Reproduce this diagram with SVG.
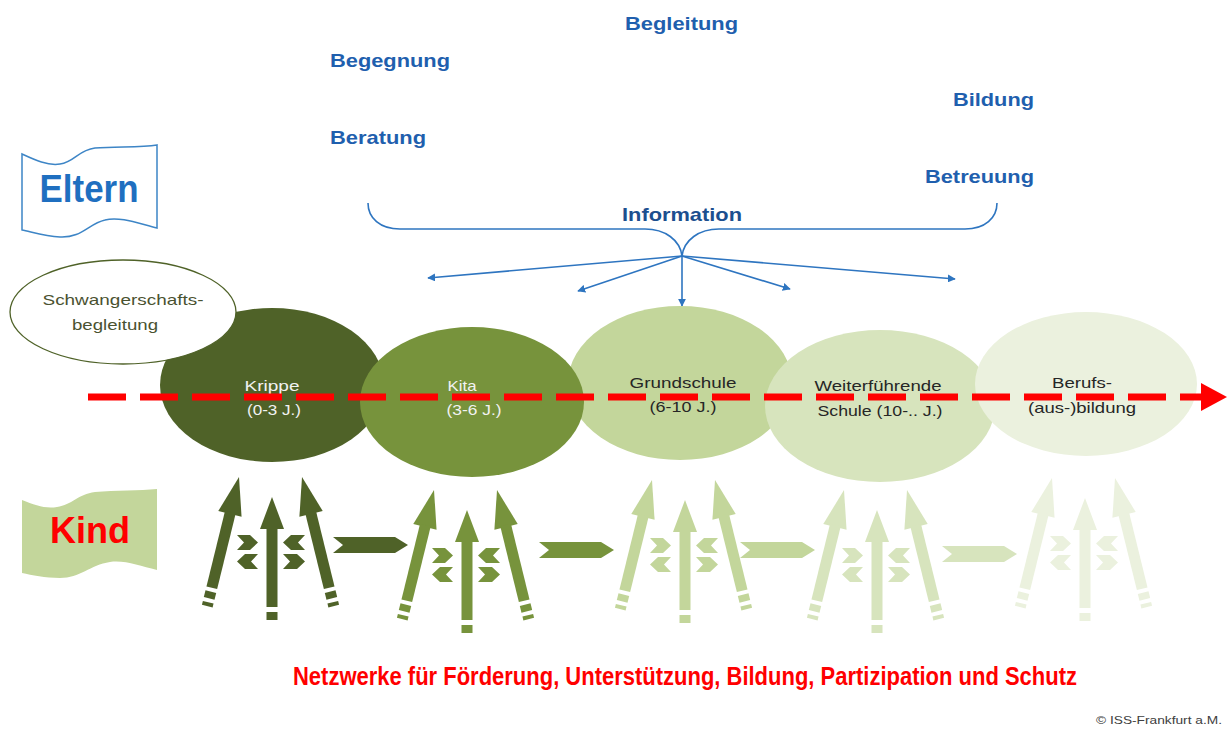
<svg xmlns="http://www.w3.org/2000/svg" xmlns:xlink="http://www.w3.org/1999/xlink" width="1229" height="730" viewBox="0 0 1229 730">
<style>
.top{font-family:"Liberation Sans",Arial,sans-serif;font-weight:bold;font-size:19px;fill:#1f5fae;}
.lbl{font-family:"Liberation Sans",Arial,sans-serif;font-size:15px;text-anchor:middle;}
.wl{fill:#f2f2f2;}
.dk{fill:#262626;}
.blue{stroke:#2e75c0;stroke-width:1.6;fill:none;}
</style>
<defs>
<marker id="ah" viewBox="0 0 10 10" refX="9" refY="5" markerWidth="8" markerHeight="8" markerUnits="userSpaceOnUse" orient="auto">
<path d="M0,0 L10,5 L0,10 z" fill="#2e75c0"/>
</marker>
<g id="sidearrow">
<polygon points="0,0 12,38 -12,38"/>
<rect x="-5.5" y="36" width="11" height="78"/>
<rect x="-5.5" y="118" width="11" height="7"/>
<rect x="-5.5" y="129" width="11" height="4"/>
</g>
<g id="cluster">
<use xlink:href="#sidearrow" transform="translate(-33,0) rotate(13.8)"/>
<use xlink:href="#sidearrow" transform="translate(30,0) rotate(-13.8)"/>
<g transform="translate(0,20)">
<polygon points="0,0 12,32 -12,32"/>
<rect x="-5.5" y="30" width="11" height="80"/>
<rect x="-5.5" y="115" width="11" height="8"/>
</g>
<polygon points="-35,58 -22,58 -14,65.5 -22,73 -35,73 -28,65.5"/>
<polygon points="-35,84.5 -27,77 -14,77 -21,84.5 -14,92 -27,92"/>
<polygon points="11,65.5 19,58 33,58 26,65.5 33,73 19,73"/>
<polygon points="11,77 25,77 33,84.5 25,92 11,92 18,84.5"/>
</g>
<polygon id="harrow" points="0,0 62,0 75,8 62,16 0,16 10,8"/>
</defs>

<rect width="1229" height="730" fill="#ffffff"/>

<g id="labels-top">
<text class="top" x="625" y="30" textLength="113" lengthAdjust="spacingAndGlyphs">Begleitung</text>
<text class="top" x="330" y="67" textLength="120" lengthAdjust="spacingAndGlyphs">Begegnung</text>
<text class="top" x="330" y="144" textLength="96" lengthAdjust="spacingAndGlyphs">Beratung</text>
<text class="top" x="953" y="106" textLength="81" lengthAdjust="spacingAndGlyphs">Bildung</text>
<text class="top" x="925" y="183" textLength="109" lengthAdjust="spacingAndGlyphs">Betreuung</text>
<text class="top" x="622" y="221" textLength="120" lengthAdjust="spacingAndGlyphs" style="fill:#1c4f8f">Information</text>
</g>

<g id="eltern">
<path d="M22,154 C35,160 48,166 60,164 C75,162 78,150 95,148 C115,146 140,148 157,145 L157,228 C140,224 120,216 105,220 C88,224 82,238 60,237 C45,236 32,232 22,230 Z" fill="#ffffff" stroke="#3d85c6" stroke-width="1.5"/>
<text x="89" y="202" text-anchor="middle" font-family="Liberation Sans, Arial, sans-serif" font-weight="bold" font-size="38" fill="#1f6fc0" textLength="99" lengthAdjust="spacingAndGlyphs">Eltern</text>
</g>

<g id="kind">
<path d="M22,500 C35,505 45,509 57,507 C72,505 78,494 95,492 C115,490 140,491 157,489 L157,570 C140,566 125,560 110,562 C90,565 80,578 60,578 C45,578 32,575 22,573 Z" fill="#c3d69b"/>
<text x="90" y="543" text-anchor="middle" font-family="Liberation Sans, Arial, sans-serif" font-weight="bold" font-size="36" fill="#ff0000">Kind</text>
</g>

<g id="connectors">
<path class="blue" d="M368,203 C368,218 380,229 400,229 L645,229 C665,229 680,240 682,256 C684,240 699,229 719,229 L965,229 C985,229 997,218 997,203"/>
<line class="blue" x1="682" y1="256" x2="428" y2="278" marker-end="url(#ah)"/>
<line class="blue" x1="682" y1="256" x2="578" y2="291" marker-end="url(#ah)"/>
<line class="blue" x1="682" y1="256" x2="682" y2="306" marker-end="url(#ah)"/>
<line class="blue" x1="682" y1="256" x2="790" y2="289" marker-end="url(#ah)"/>
<line class="blue" x1="682" y1="256" x2="955" y2="279" marker-end="url(#ah)"/>
</g>

<g id="krippe">
<ellipse cx="272" cy="385" rx="112" ry="77" fill="#4f6228"/>
<text class="lbl wl" x="272" y="391" textLength="55" lengthAdjust="spacingAndGlyphs">Krippe</text>
<text class="lbl wl" x="274" y="415" textLength="54" lengthAdjust="spacingAndGlyphs">(0-3 J.)</text>
</g>

<g id="grundschule">
<ellipse cx="680" cy="383" rx="112" ry="77" fill="#c3d69b"/>
<text class="lbl dk" x="683" y="388" textLength="107" lengthAdjust="spacingAndGlyphs">Grundschule</text>
<text class="lbl dk" x="683" y="412" textLength="67" lengthAdjust="spacingAndGlyphs">(6-10 J.)</text>
</g>

<g id="kita">
<ellipse cx="472" cy="402" rx="112" ry="75" fill="#77933c"/>
<text class="lbl wl" x="462" y="391" textLength="29" lengthAdjust="spacingAndGlyphs">Kita</text>
<text class="lbl wl" x="474" y="415" textLength="55" lengthAdjust="spacingAndGlyphs">(3-6 J.)</text>
</g>

<g id="weiterfuehrende">
<ellipse cx="880" cy="406" rx="115" ry="76" fill="#d7e4bd"/>
<text class="lbl dk" x="878" y="391" textLength="127" lengthAdjust="spacingAndGlyphs">Weiterführende</text>
<text class="lbl dk" x="880" y="416" textLength="125" lengthAdjust="spacingAndGlyphs">Schule (10-.. J.)</text>
</g>

<g id="berufsbildung">
<ellipse cx="1086" cy="384" rx="111" ry="72" fill="#ebf1de"/>
<text class="lbl dk" x="1082" y="388" textLength="60" lengthAdjust="spacingAndGlyphs">Berufs-</text>
<text class="lbl dk" x="1082" y="413" textLength="108" lengthAdjust="spacingAndGlyphs">(aus-)bildung</text>
</g>

<g id="schwangerschaftsbegleitung">
<ellipse cx="123" cy="312" rx="113" ry="52" fill="#ffffff" stroke="#4f6228" stroke-width="1.3"/>
<text class="lbl" x="123" y="305" fill="#4a5230" textLength="161" lengthAdjust="spacingAndGlyphs">Schwangerschafts-</text>
<text class="lbl" x="115" y="330" fill="#4a5230" textLength="86" lengthAdjust="spacingAndGlyphs">begleitung</text>
</g>

<g id="timeline">
<line x1="88" y1="397" x2="1203" y2="397" stroke="#ff0000" stroke-width="7" stroke-dasharray="38 14"/>
<polygon points="1201,383 1227,397 1201,411" fill="#ff0000"/>
</g>

<g id="arrow-clusters">
<use xlink:href="#cluster" transform="translate(272,477)" fill="#4f6228"/>
<use xlink:href="#harrow" transform="translate(333,537)" fill="#4f6228"/>
<use xlink:href="#cluster" transform="translate(467,490)" fill="#77933c"/>
<use xlink:href="#harrow" transform="translate(539,542)" fill="#77933c"/>
<use xlink:href="#cluster" transform="translate(685,480)" fill="#c3d69b"/>
<use xlink:href="#harrow" transform="translate(740,542)" fill="#c3d69b"/>
<use xlink:href="#cluster" transform="translate(877,490)" fill="#d7e4bd"/>
<use xlink:href="#harrow" transform="translate(942,546)" fill="#d7e4bd"/>
<use xlink:href="#cluster" transform="translate(1085,478)" fill="#ebf1de"/>
</g>

<g id="footer">
<text transform="translate(293,685) scale(1,1.3)" x="0" y="0" font-family="Liberation Sans, Arial, sans-serif" font-weight="bold" font-size="20" fill="#ff0000" textLength="784" lengthAdjust="spacingAndGlyphs">Netzwerke für Förderung, Unterstützung, Bildung, Partizipation und Schutz</text>
<text x="1096" y="724" font-family="Liberation Sans, Arial, sans-serif" font-size="11" fill="#404040" textLength="126" lengthAdjust="spacingAndGlyphs">© ISS-Frankfurt a.M.</text>
</g>
</svg>
